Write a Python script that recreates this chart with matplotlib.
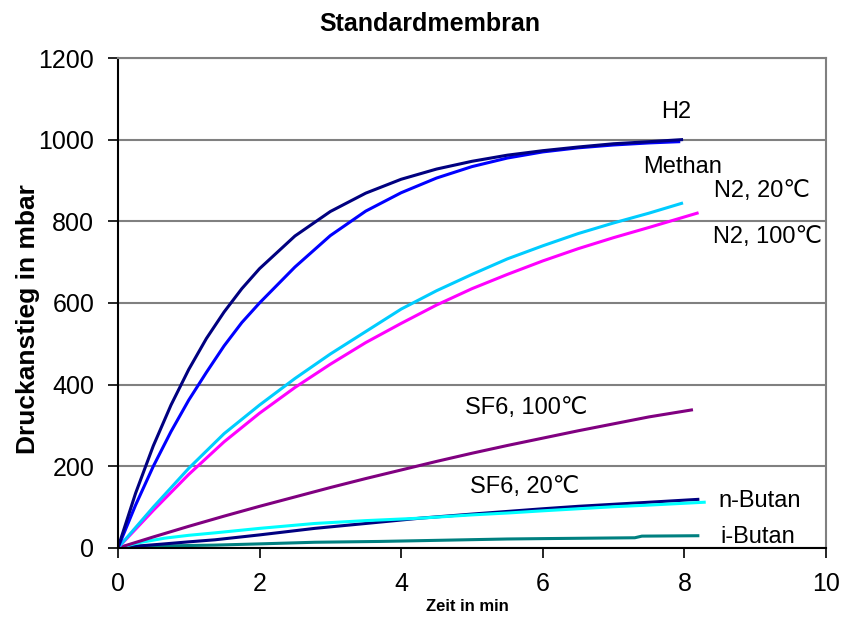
import matplotlib
matplotlib.use("Agg")
from matplotlib import pyplot as plt

plt.rcParams['font.family'] = ['Liberation Sans', 'DejaVu Sans']

# H2
h2_x = [0, 0.25, 0.5, 0.75, 1.0, 1.25, 1.5, 1.75, 2.0, 2.5, 3.0, 3.5, 4.0, 4.5, 5.0, 5.5, 6.0, 6.5, 7.0, 7.5, 7.96]
h2_y = [0, 134, 250, 350, 437, 513, 578, 635, 684, 764, 824, 869, 903, 928, 947, 962, 973, 982, 990, 995, 1000]
# Methan
ch4_x = [0, 0.25, 0.5, 0.75, 1.0, 1.25, 1.5, 1.75, 2.0, 2.5, 3.0, 3.5, 4.0, 4.5, 5.0, 5.5, 6.0, 6.5, 7.0, 7.5, 7.92]
ch4_y = [0, 105, 200, 285, 362, 430, 495, 552, 600, 688, 765, 825, 870, 906, 934, 955, 970, 980, 987, 992, 995]
# N2 20 C
n2a_x = [0, 0.5, 1.0, 1.5, 2.0, 2.5, 3.0, 3.5, 4.0, 4.5, 5.0, 5.5, 6.0, 6.5, 7.0, 7.5, 7.96]
n2a_y = [0, 100, 195, 280, 350, 415, 475, 530, 585, 630, 670, 708, 740, 770, 796, 820, 844]
# N2 100 C
n2b_x = [0, 0.5, 1.0, 1.5, 2.0, 2.5, 3.0, 3.5, 4.0, 4.5, 5.0, 5.5, 6.0, 6.5, 7.0, 7.5, 8.18]
n2b_y = [0, 92, 180, 260, 330, 393, 450, 503, 550, 595, 635, 670, 703, 733, 760, 785, 820]
# SF6 100 C
sf6b_x = [0, 0.5, 1.0, 1.5, 2.0, 2.5, 3.0, 3.5, 4.0, 4.5, 5.0, 5.5, 6.0, 6.5, 7.0, 7.5, 8.1]
sf6b_y = [0, 27, 53, 78, 102, 125, 148, 170, 191, 212, 232, 251, 269, 287, 304, 321, 338]
# SF6 20 C
sf6a_x = [0, 0.3, 0.66, 1.0, 1.37, 2.0, 2.78, 3.5, 4.27, 5.0, 5.54, 6.0, 6.5, 7.0, 7.5, 8.28]
sf6a_y = [0, 13, 24, 31, 37, 48, 60, 67, 73, 81, 86, 91, 96, 101, 105, 112]
# n-Butan
nbut_x = [0, 0.3, 0.66, 1.0, 1.37, 2.0, 2.78, 3.5, 4.27, 5.0, 5.54, 6.0, 6.5, 7.0, 7.5, 8.19]
nbut_y = [0, 5, 10, 15, 20, 32, 48, 60, 73, 83, 90, 96, 102, 107, 112, 119]
# i-Butan
ibut_x = [0, 0.3, 1.0, 1.37, 2.0, 2.78, 3.7, 4.9, 5.5, 6.05, 7.3, 7.4, 8.19]
ibut_y = [0, 4, 6, 7, 10, 14, 16, 20, 22, 23, 25, 29, 30]

fig = plt.figure(figsize=(8.42, 6.21), dpi=100)
ax = fig.add_axes([0.140, 0.1176, 0.841, 0.789])

ax.plot(ibut_x, ibut_y, color="#008080", lw=2.2)
ax.plot(nbut_x, nbut_y, color="#000080", lw=2.2)
ax.plot(sf6a_x, sf6a_y, color="#00FFFF", lw=2.2)
ax.plot(sf6b_x, sf6b_y, color="#800080", lw=2.2)
ax.plot(n2b_x, n2b_y, color="#FF00FF", lw=2.2)
ax.plot(n2a_x, n2a_y, color="#00CCFF", lw=2.2)
ax.plot(ch4_x, ch4_y, color="#0000FF", lw=2.2)
ax.plot(h2_x, h2_y, color="#000080", lw=2.2)

fs = 17
ax.text(7.88, 1068, "H2", fontsize=fs, ha="center", va="center")
ax.text(7.97, 933, "Methan", fontsize=fs, ha="center", va="center")
ax.text(9.1, 874, "N2, 20℃", fontsize=fs, ha="center", va="center")
ax.text(9.17, 762, "N2, 100℃", fontsize=fs, ha="center", va="center")
ax.text(5.76, 343, "SF6, 100℃", fontsize=fs, ha="center", va="center")
ax.text(5.75, 150, "SF6, 20℃", fontsize=fs, ha="center", va="center")
ax.text(9.07, 115, "n-Butan", fontsize=fs, ha="center", va="center")
ax.text(9.03, 27, "i-Butan", fontsize=fs, ha="center", va="center")

ax.set_xlim(0, 10)
ax.set_ylim(0, 1200)
ax.set_xticks([0, 2, 4, 6, 8, 10])
ax.set_yticks([0, 200, 400, 600, 800, 1000, 1200])
ax.yaxis.grid(True, color="#808080", lw=1.5)
ax.set_axisbelow(True)
ax.tick_params(direction="out", length=7, width=1.2, labelsize=18, pad=10, color="black")

ax.spines["left"].set_color("black")
ax.spines["bottom"].set_color("black")
ax.spines["left"].set_linewidth(1.5)
ax.spines["bottom"].set_linewidth(1.5)
ax.spines["right"].set_color("#808080")
ax.spines["top"].set_color("#808080")
ax.spines["right"].set_linewidth(1.5)
ax.spines["top"].set_linewidth(1.5)

fig.text(0.511, 0.962, "Standardmembran", fontsize=18, fontweight="bold", ha="center", va="center")
fig.text(0.033, 0.487, "Druckanstieg in mbar", fontsize=19, fontweight="bold", ha="center", va="center", rotation=90)
fig.text(0.555, 0.023, "Zeit in min", fontsize=12, fontweight="bold", ha="center", va="center")

fig.savefig("out.png", dpi=100)
